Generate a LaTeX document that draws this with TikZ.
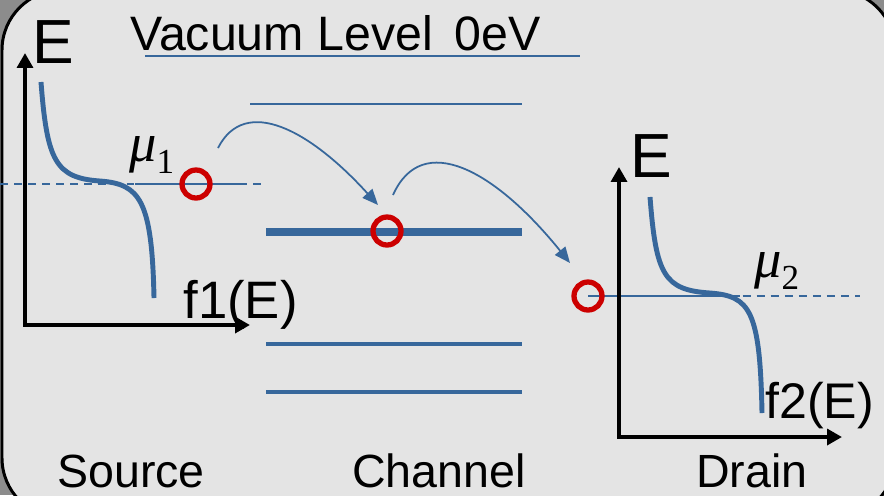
\documentclass[tikz,border=0pt]{standalone}
\usepackage{fontspec}
\setmainfont{Liberation Sans}
\newfontfamily\tmsfont{Liberation Serif}
\usetikzlibrary{arrows.meta}
\definecolor{BandBlue}{HTML}{37679B}
\definecolor{MarkRed}{HTML}{CC0000}
\definecolor{Panel}{HTML}{E4E4E4}
\definecolor{Outside}{HTML}{8C8C8C}
\newcommand{\pxsize}[1]{\fontsize{#1}{#1}\selectfont}

\begin{document}
\begin{tikzpicture}[
  x=0.02cm, y=-0.02cm,
  txt/.style={anchor=base west,inner sep=0pt},
  axis/.style={{Triangle[length=8.5pt,width=9pt]}-{Triangle[length=8.5pt,width=9pt]},line width=2.8pt},
  fermi/.style={draw=BandBlue,line width=2.8pt},
  level/.style={draw=BandBlue,line width=1.1pt},
  mu/.style={draw=BandBlue,line width=0.9pt,dash pattern=on 4.5pt off 3.5pt},
  electron/.style={circle,draw=MarkRed,line width=3pt,minimum size=0.56cm,inner sep=0pt},
  hop/.style={-{Triangle[length=9pt,width=7.5pt]},draw=BandBlue,line width=1pt}
]
  \useasboundingbox (0,0) rectangle (884,495);
  \clip (0,0) rectangle (884,495);
  \fill[Outside] (0,0) rectangle (884,495);
  \draw[line width=1.7pt,fill=Panel,rounded corners=1.2cm] (2,-10) rectangle (895,518);

  % Energieniveaus im Kanal.
  \node[txt,font=\pxsize{27.5}] (vac) at (130,50) {Vacuum Level\ \,0eV};
  \draw[level] (145,56) -- (580,56);
  \draw[level] (250,104) -- (522,104);
  \draw[draw=BandBlue,line width=4.5pt] (266,232) -- (522,232);
  \draw[draw=BandBlue,line width=2.3pt] (266,344) -- (522,344);
  \draw[draw=BandBlue,line width=2.3pt] (266,392) -- (522,392);

  % Source: Fermi-Verteilung f1(E).
  \coordinate (srcTop) at (25,53);
  \coordinate (srcO) at (25,325);
  \coordinate (srcEnd) at (250,325);
  \draw[mu] (0,184) -- (262,184);
  \draw[draw=BandBlue,line width=0.9pt] (135,184) -- (245,184);
  \draw[fermi] (41,82) .. controls (47,160) and (55,178) .. (100,181)
    .. controls (140,184) and (152,200) .. (154,298);
  \draw[axis] (srcTop) -- (srcO) -- (srcEnd);
  \node[txt,font=\pxsize{35.5}] (srcE) at (32,63) {E};
  \node[txt,font=\pxsize{30}] (srcF) at (183,318) {f1(E)};
  \node[txt,font=\pxsize{31}\tmsfont] (mu1) at (129,161)
    {\itshape μ\upshape\raisebox{-7pt}{\pxsize{20}1}};

  % Drain: Fermi-Verteilung f2(E).
  \coordinate (drnTop) at (619,167);
  \coordinate (drnO) at (619,437);
  \coordinate (drnEnd) at (842,437);
  \draw[mu] (588,296) -- (860,296);
  \draw[draw=BandBlue,line width=0.9pt] (588,296) -- (740,296);
  \draw[fermi] (650,197) .. controls (656,275) and (664,290) .. (710,293)
    .. controls (750,296) and (760,310) .. (762,413);
  \draw[axis] (drnTop) -- (drnO) -- (drnEnd);
  \node[txt,font=\pxsize{35.5}] (drnE) at (630,177) {E};
  \node[txt,font=\pxsize{28.5}] (drnF) at (765,418) {f2(E)};
  \node[txt,font=\pxsize{31}\tmsfont] (mu2) at (754,277)
    {\itshape μ\upshape\raisebox{-7pt}{\pxsize{20}2}};

  % Elektronen und Tunnelspruenge.
  \node[electron] (eSrc) at (196,184) {};
  \node[electron] (eCh) at (387,231) {};
  \node[electron] (eDrn) at (588,296) {};
  \coordinate (hopA1) at (218,148);
  \coordinate (hopA2) at (378,205);
  \coordinate (hopB1) at (393,195);
  \coordinate (hopB2) at (570,263);
  \draw[hop] (hopA1) .. controls +(27,-53) and +(-68,-75) .. (hopA2);
  \draw[hop] (hopB1) .. controls +(29,-65) and +(-75,-93) .. (hopB2);

  % Beschriftung unten.
  \node[txt,font=\pxsize{26.5}] (src) at (57,487) {Source};
  \node[txt,font=\pxsize{26.5}] (chan) at (352,487) {Channel};
  \node[txt,font=\pxsize{26.5}] (drn) at (696,487) {Drain};
\end{tikzpicture}
\end{document}
